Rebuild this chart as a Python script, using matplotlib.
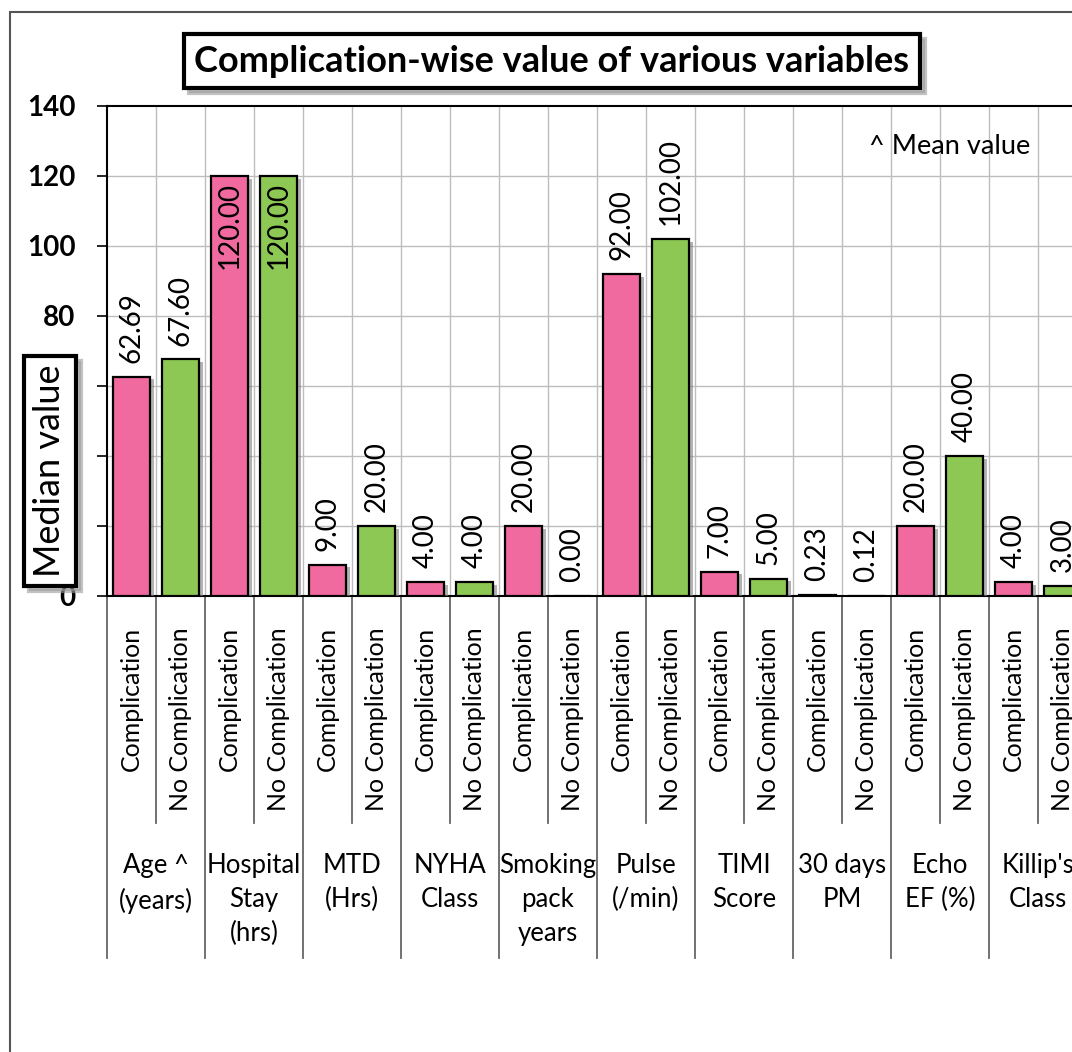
# bar chart: complication-wise value of various variables
import numpy as np
import matplotlib.pyplot as plt
import matplotlib.patheffects as pe
from matplotlib.patches import Rectangle

plt.rcParams['font.family'] = ['Lato', 'DejaVu Sans']

# data
groups = ['Age ^\n(years)', 'Hospital\nStay\n(hrs)', 'MTD\n(Hrs)', 'NYHA\nClass',
          'Smoking\npack\nyears', 'Pulse\n(/min)', 'TIMI\nScore', '30 days\nPM',
          'Echo\nEF (%)', "Killip's\nClass"]
sub_labels = ['Complication', 'No Complication']
complication = [62.69, 120.00, 9.00, 4.00, 20.00, 92.00, 7.00, 0.23, 20.00, 4.00]
no_complication = [67.60, 120.00, 20.00, 4.00, 0.00, 102.00, 5.00, 0.12, 40.00, 3.00]
yticks = [0, 20, 40, 60, 80, 100, 120, 140]

pink = '#f06aa0'
green = '#8cc853'

W, H = 1072, 1052
fig = plt.figure(figsize=(W / 100, H / 100), dpi=100)

# outer chart frame (cropped on right and bottom)
fig.add_artist(Rectangle((10 / W, -0.05), 1.1, 1 - 12 / H + 0.05, transform=fig.transFigure,
                         fill=False, edgecolor='#555555', linewidth=1.5))

# plot area: left 107px, top 106px, bottom 596px, right goes past the edge
ax = fig.add_axes([107 / W, (H - 596) / H, 980 / W, 490 / H])

n = len(groups)
x_c = np.arange(n) * 2 + 0.5
x_n = np.arange(n) * 2 + 1.5
shadow = [pe.SimplePatchShadow(offset=(3, -2), shadow_rgbFace='#808080', alpha=0.6), pe.Normal()]
bars_c = ax.bar(x_c, complication, width=0.74, color=pink, edgecolor='black', linewidth=1.6, zorder=3)
bars_n = ax.bar(x_n, no_complication, width=0.74, color=green, edgecolor='black', linewidth=1.6, zorder=3)
for b in list(bars_c) + list(bars_n):
    b.set_path_effects(shadow)

ax.set_xlim(0, 2 * n)
ax.set_ylim(0, 140)
ax.set_yticks(yticks)
ax.set_yticklabels([str(t) for t in yticks], fontsize=20, fontweight='bold')
ax.tick_params(axis='y', length=7.5, width=1.2, pad=15)
ax.set_xticks([])

# grid lines
for xv in range(1, 2 * n):
    ax.axvline(xv, color='#bdbdbd', linewidth=1, zorder=1)
for yv in yticks[1:-1]:
    ax.axhline(yv, color='#bdbdbd', linewidth=1, zorder=1)
for s in ['left', 'bottom', 'top']:
    ax.spines[s].set_linewidth(1.5)
ax.spines['right'].set_visible(False)

# value labels
for xs, vals in [(x_c, complication), (x_n, no_complication)]:
    for xv, v in zip(xs, vals):
        if v > 110:
            ax.annotate(f'{v:.2f}', (xv, v), xytext=(0, -4), textcoords='offset points',
                        ha='center', va='top', rotation=90, fontsize=20, zorder=5)
        else:
            ax.annotate(f'{v:.2f}', (xv, v), xytext=(0, 10), textcoords='offset points',
                        ha='center', va='bottom', rotation=90, fontsize=20, zorder=5)

# multi-level category axis below the plot
tr = ax.get_xaxis_transform()
inner_bottom = -(823 - 596) / 490
outer_bottom = -(958 - 596) / 490
for i in range(n + 1):
    ax.plot([2 * i, 2 * i], [0, outer_bottom], transform=tr, color='#666666', linewidth=1.3, clip_on=False)
    if i < n:
        ax.plot([2 * i + 1, 2 * i + 1], [0, inner_bottom], transform=tr, color='#666666',
                linewidth=1.3, clip_on=False)
for i in range(n):
    ax.text(x_c[i], -(627 - 596) / 490, sub_labels[0], transform=tr, rotation=90,
            ha='center', va='top', fontsize=18)
    ax.text(x_n[i], -(627 - 596) / 490, sub_labels[1], transform=tr, rotation=90,
            ha='center', va='top', fontsize=18)
    ax.text(2 * i + 1, -(853 - 596) / 490, groups[i], transform=tr, ha='center', va='top',
            fontsize=18.5, linespacing=1.45)

# title in a box with shadow
title = 'Complication-wise value of various variables'
tx, ty = 552 / W, 1 - 61 / H
fig.text(tx + 5 / W, ty - 5 / H, title, ha='center', va='center', fontsize=26, fontweight='bold',
         color=(0, 0, 0, 0), bbox=dict(boxstyle='square,pad=0.3', fc='#9a9a9a', ec='#9a9a9a', lw=3, alpha=0.6))
fig.text(tx, ty, title, ha='center', va='center', fontsize=26, fontweight='bold',
         bbox=dict(boxstyle='square,pad=0.3', fc='white', ec='black', lw=3))

# y label in a box with shadow
lx, ly = 50 / W, 1 - 471 / H
fig.text(lx + 5 / W, ly - 5 / H, 'Median value', rotation=90, ha='center', va='center', fontsize=26,
         color=(0, 0, 0, 0), bbox=dict(boxstyle='square,pad=0.25', fc='#9a9a9a', ec='#9a9a9a', lw=3, alpha=0.6))
fig.text(lx, ly, 'Median value', rotation=90, ha='center', va='center', fontsize=26,
         bbox=dict(boxstyle='square,pad=0.25', fc='white', ec='black', lw=3))

# note
fig.text(950 / W, 1 - 146 / H, '^ Mean value', ha='center', va='center', fontsize=19.5)

fig.savefig('out.png', dpi=100)
